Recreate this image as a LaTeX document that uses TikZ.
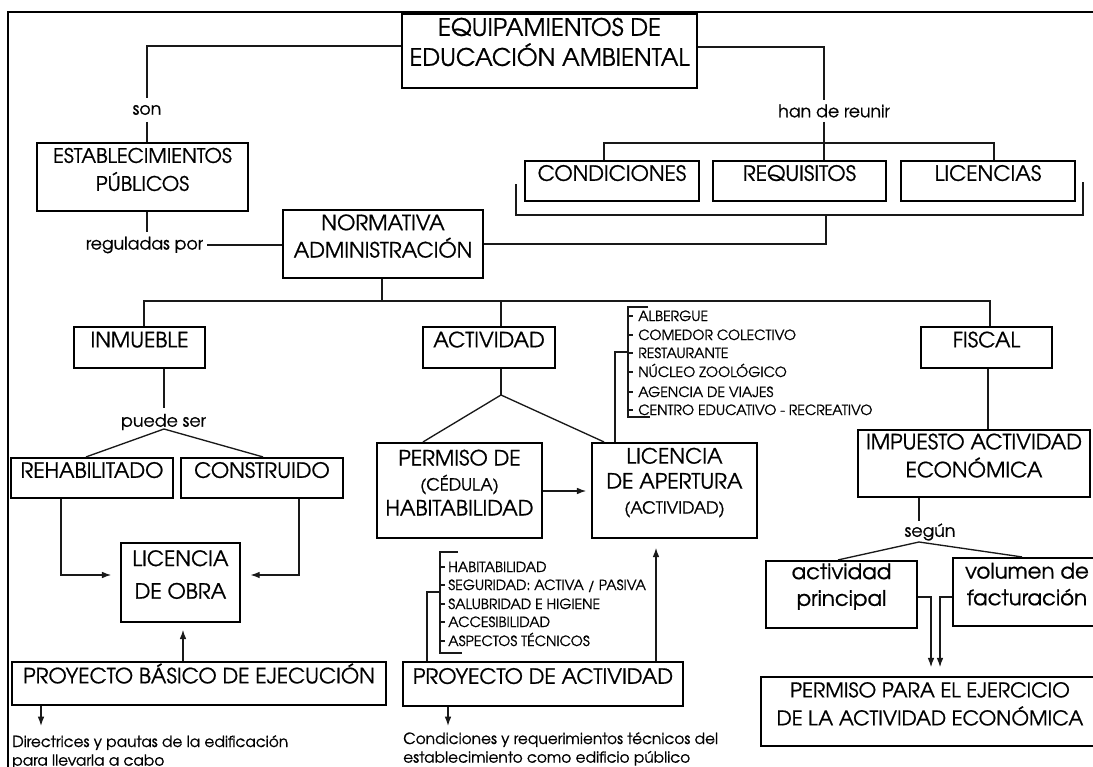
\documentclass[tikz,border=0pt]{standalone}
\usepackage{fontspec}
\setmainfont{texgyreadventor-regular.otf}[FakeBold=0.8]
\usetikzlibrary{arrows.meta,fit}
\newcommand\mainf{\fontsize{15.8}{21}\selectfont}
\newcommand\lblf{\fontsize{13}{15}\selectfont}
\newcommand\itmf{\fontsize{10.5}{12}\selectfont}
\newcommand\notef{\fontsize{11.5}{14}\selectfont}
\tikzset{
  bx/.style={draw=black, line width=1.6pt, inner sep=0pt, align=center, font=\mainf},
  ln/.style={line width=1pt, draw=black!90},
  arr/.style={ln, -{Latex[length=7pt,width=5pt]}},
  lbl/.style={inner sep=0pt, font=\lblf},
  itm/.style={anchor=base west, inner sep=0pt, font=\itmf},
  note/.style={anchor=north west, inner sep=0pt, align=left, font=\notef},
}
\begin{document}
\begin{tikzpicture}[x=0.75pt,y=-0.75pt]
\useasboundingbox (0,0) rectangle (1093,767);
\fill[white] (0,0) rectangle (1093,767);
\clip (0,0) rectangle (1093,767);
\draw[line width=2.2pt] (1100,12) -- (8,12) -- (8,780);

% boxes
\node[bx, fit={(402,14) (697,88)}, font=\fontsize{18}{22.5}\selectfont] (equip) {EQUIPAMIENTOS DE\\EDUCACIÓN AMBIENTAL};
\node[bx, fit={(37,143) (248,211)}, font=\fontsize{15}{21}\selectfont] (estab) {ESTABLECIMIENTOS\\PÚBLICOS};
\node[bx, fit={(283,210) (483,278)}, font=\fontsize{15.8}{20.5}\selectfont] (norm) {NORMATIVA\\ADMINISTRACIÓN};
\node[bx, fit={(525,161) (699,201)}] (cond) {CONDICIONES};
\node[bx, fit={(713,161) (886,201)}] (requ) {REQUISITOS};
\node[bx, fit={(901,161) (1075,201)}] (lic) {LICENCIAS};
\node[bx, fit={(74,327) (205,368)}] (inmu) {INMUEBLE};
\node[bx, fit={(423,327) (555,368)}] (activ) {ACTIVIDAD};
\node[bx, fit={(921,327) (1052,368)}] (fisc) {FISCAL};
\node[bx, fit={(11,458) (173,498)}] (rehab) {REHABILITADO};
\node[bx, fit={(181,458) (343,498)}] (constr) {CONSTRUIDO};
\node[bx, fit={(121,543) (240,622)}, font=\fontsize{15.8}{24.5}\selectfont] (lobra) {LICENCIA\\DE OBRA};
\node[bx, fit={(377,443) (542,538)}, font=\fontsize{15.8}{18.75}\selectfont] (perm) {PERMISO DE\\{\fontsize{12.5}{18.75}\selectfont (CÉDULA)}\\HABITABILIDAD};
\node[bx, fit={(592,443) (757,538)}, font=\fontsize{15.8}{18.75}\selectfont] (lapert) {LICENCIA\\DE APERTURA\\{\fontsize{12.5}{18.75}\selectfont (ACTIVIDAD)}};
\node[bx, fit={(858,430) (1090,497)}, font=\fontsize{15.8}{21}\selectfont] (impu) {IMPUESTO ACTIVIDAD\\ECONÓMICA};
\node[bx, fit={(766,561) (917,628)}, font=\fontsize{16}{20}\selectfont] (actp) {actividad\\principal};
\node[bx, fit={(953,558) (1101,626)}, font=\fontsize{16}{20}\selectfont] (volu) {volumen de\\facturación};
\node[bx, fit={(761,677) (1099,746)}, font=\fontsize{15.2}{21}\selectfont] (permp) {PERMISO PARA EL EJERCICIO\\DE LA ACTIVIDAD ECONÓMICA};
\node[bx, fit={(12,662) (386,705)}] (pbas) {PROYECTO BÁSICO DE EJECUCIÓN};
\node[bx, fit={(403,662) (683,706)}] (pact) {PROYECTO DE ACTIVIDAD};

% top left
\node[lbl, inner ysep=5pt] (son) at (147,110) {son};
\draw[ln] (equip.west |- 0,46) -| (son.north);
\draw[ln] (son.south) -- (son.south |- estab.north);
\node[lbl, inner sep=3pt] (regul) at (144.5,245) {reguladas por};
\draw[ln] (estab.south -| son.south) -- (regul.north -| son.south);
\draw[ln] (regul.east) -- (regul.east -| norm.west);

% top right
\coordinate (brk) at (826,215);
\draw[ln] (516,184) |- (1083,215) -- (1083,182);
\draw[ln] (norm.east) -| (brk);
\node[lbl, inner ysep=3pt] (han) at (834,111) {han de reunir};
\draw[ln] (equip.east |- 0,47) -| (han.north -| 824,0);
\draw[ln] (han.south -| 824,0) -- (requ.north -| 824,0);
\draw[ln] (cond.north -| 604,0) |- (994,143) -- (lic.north -| 994,0);

% normativa down
\coordinate (nbar) at (382,301);
\draw[ln] (norm.south -| nbar) -- (nbar);
\draw[ln] (inmu.north -| 144,0) |- (990,301) -- (fisc.north -| 990,0);
\draw[ln] (activ.north -| 501,0) -- (501,301);

% inmueble
\node[lbl] (puede) at (163.5,422) {puede ser};
\draw[ln, shorten >=4pt] (inmu.south -| 164,0) -- (puede.north -| 164,0);
\coordinate (pv) at (164,429);
\draw[ln] (rehab.north -| 86,0) -- (pv) -- (constr.north -| 263,0);
\draw[arr, shorten >=6.5pt] (rehab.south -| 61,0) |- (lobra.west |- 0,575);
\draw[arr, shorten >=7pt] (constr.south -| 299,0) |- (lobra.east |- 0,575);
\draw[arr, shorten >=5pt] (pbas.north -| 183,0) -- (lobra.south -| 183,0);
\coordinate (d1) at (41,726);
\draw[arr] (pbas.south -| 41,0) -- (d1);
\node[note] (note1) at (12,735) {Directrices y pautas de la edificación\\para llevarla a cabo};

% actividad
\coordinate (av) at (501,395);
\draw[ln] (activ.south -| av) -- (av);
\draw[ln] (perm.north -| 423,0) -- (av) -- (lapert.north -| 604,0);
\draw[arr, shorten >=3.5pt] (perm.east |- 0,491) -- (lapert.west |- 0,491);
\draw[ln] (lapert.north -| 615,0) |- (628,352);
\draw[ln] (648,307) -| (628,417) -- (650,417);
\foreach \y in {316,335,353,372,392,410} \draw[ln] (628,\y) -- (633,\y);
\node[itm] (la1) at (638,321) {ALBERGUE};
\node[itm] (la2) at (638,340) {COMEDOR COLECTIVO};
\node[itm] (la3) at (638,358) {RESTAURANTE};
\node[itm] (la4) at (638,377) {NÚCLEO ZOOLÓGICO};
\node[itm] (la5) at (638,397) {AGENCIA DE VIAJES};
\node[itm] (la6) at (638,415) {CENTRO EDUCATIVO - RECREATIVO};

\draw[arr, shorten >=6.5pt] (pact.north -| 656,0) -- (lapert.south -| 656,0);
\draw[ln] (pact.north -| 427,0) |- (440,592);
\draw[ln] (458,552) -| (440,653) -- (462,653);
\foreach \y in {567,585,604,622,641} \draw[ln] (440,\y) -- (445,\y);
\node[itm] (lb1) at (448,572) {HABITABILIDAD};
\node[itm] (lb2) at (448,590) {SEGURIDAD: ACTIVA / PASIVA};
\node[itm] (lb3) at (448,609) {SALUBRIDAD E HIGIENE};
\node[itm] (lb4) at (448,627) {ACCESIBILIDAD};
\node[itm] (lb5) at (448,646) {ASPECTOS TÉCNICOS};
\coordinate (d2) at (448,726);
\draw[arr] (pact.south -| 448,0) -- (d2);
\node[note] (note2) at (403,732) {Condiciones y requerimientos técnicos del\\establecimiento como edificio público};

% fiscal
\draw[ln] (fisc.south -| 988,0) -- (impu.north -| 988,0);
\node[lbl] (segun) at (930,532) {según};
\draw[ln, shorten >=2pt] (impu.south -| 919,0) -- (segun.north -| 919,0);
\coordinate (sv) at (919,542);
\draw[ln] (actp.north -| 838,0) -- (sv) -- (volu.north -| 1022,0);
\draw[arr, shorten >=6.5pt] (actp.east |- 0,597) -| (permp.north -| 931,0);
\draw[arr, shorten >=6.5pt] (volu.west |- 0,597) -| (permp.north -| 940,0);
\end{tikzpicture}
\end{document}
